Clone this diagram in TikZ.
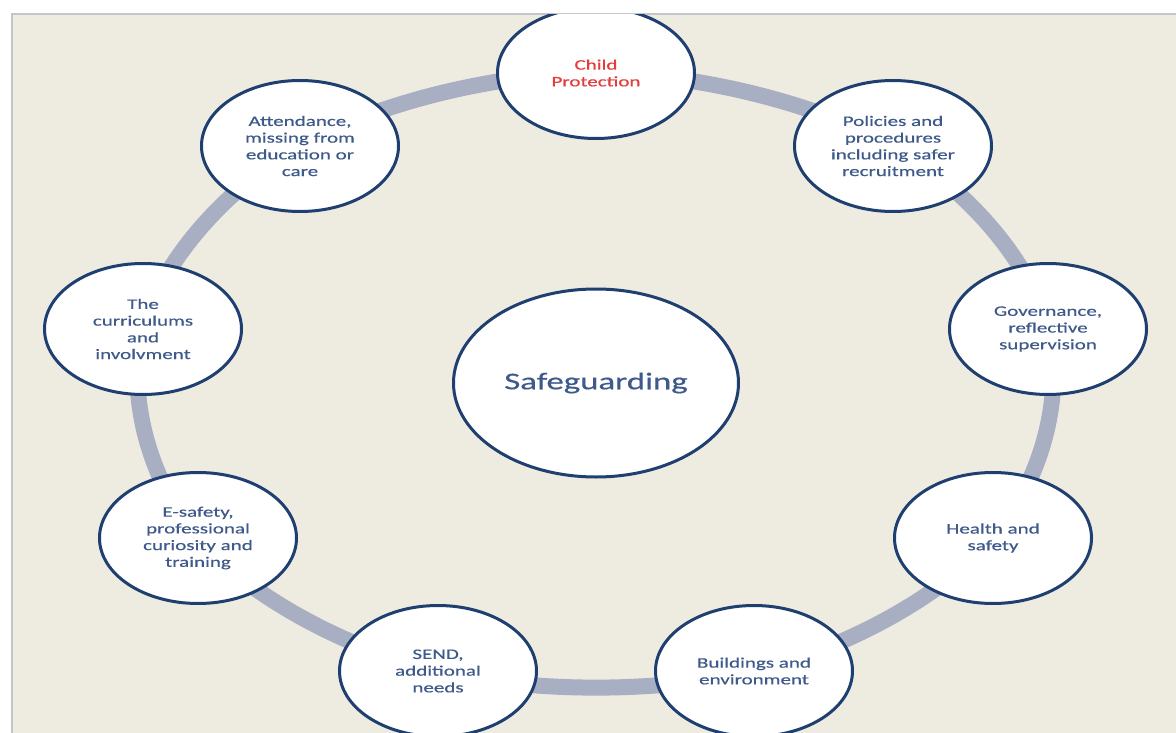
\documentclass[tikz,border=0pt]{standalone}
\usepackage{fontspec}
\setmainfont{Carlito}[FakeStretch=1.45,FakeBold=0.5]
\usetikzlibrary{shapes.geometric}
\pgfdeclarelayer{background}
\pgfsetlayers{background,main}
\definecolor{bgc}{HTML}{EEEBE1}
\definecolor{ringc}{HTML}{A8AFC3}
\definecolor{navy}{HTML}{1E3F70}
\definecolor{txt}{HTML}{3D5A8A}
\definecolor{redt}{HTML}{E53B3B}
\begin{document}
\begin{tikzpicture}[x=1pt,y=-1pt,
  item/.style={ellipse, draw=navy, line width=3pt, fill=white,
    minimum width=197pt, minimum height=131pt, inner sep=0pt,
    align=center, text=txt, font=\fontsize{14.5}{16.7}\selectfont},
  hub/.style={item, minimum width=285pt, minimum height=188pt,
    font=\fontsize{24}{28}\selectfont},
  ring/.style={draw=ringc, line width=16pt}]
\useasboundingbox (0,0) rectangle (1176,733);
\begin{scope}
\clip (13,15) rectangle (1176,733);
\node[item, text=redt] (cp) at (596,73) {Child\\Protection};
\node[item] (pol) at (893,146) {Policies and\\procedures\\including safer\\recruitment};
\node[item] (gov) at (1048,329) {Governance,\\reflective\\supervision};
\node[item] (hs) at (993,538) {Health and\\safety};
\node[item] (bld) at (754,671) {Buildings and\\environment};
\node[item] (send) at (438,671) {SEND,\\additional\\needs};
\node[item] (esf) at (198,538) {E-safety,\\professional\\curiosity and\\training};
\node[item] (cur) at (143,329) {The\\curriculums\\and\\involvment};
\node[item] (att) at (300,146) {Attendance,\\missing from\\education or\\care};
\node[hub] (safe) at (596,383) {Safeguarding};
\end{scope}
\begin{pgfonlayer}{background}
\fill[white] (0,0) rectangle (1176,733);
\fill[bgc] (12,14) rectangle (1176,733);
\draw[gray!45, line width=1.5pt] (12,733) -- (12,14) -- (1176,14);
\begin{scope}
\clip (13,15) rectangle (1176,733);
\draw[ring] plot[smooth cycle, tension=0.6] coordinates {(cp.center) (pol.center) (gov.center) (hs.center) (bld.center) (send.center) (esf.center) (cur.center) (att.center)};
\end{scope}
\end{pgfonlayer}
\end{tikzpicture}
\end{document}
